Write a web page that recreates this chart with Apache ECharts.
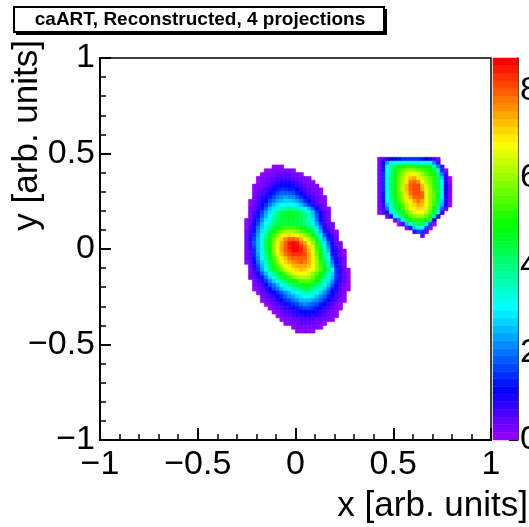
<!DOCTYPE html>
<html><head><meta charset="utf-8">
<script src="https://cdn.jsdelivr.net/npm/echarts@6/dist/echarts.min.js"></script>
<style>html,body{margin:0;padding:0;background:#fff}#c{width:529px;height:527px}</style>
</head><body><div id="c"></div>
<script>
// ---- text ----
const titleText = 'caART, Reconstructed, 4 projections';
const xAxisTitle = 'x [arb. units]';
const yAxisTitle = 'y [arb. units]';
const colorbarTicks = [0, 2, 4, 6, 8];

// ---- histogram definition ----
const binWidth = 0.02;
const zMax = 8.75;
const paletteSize = 50;

// left blob: per row -> bin-centre y, first bin-centre x, bin contents
const leftRowY = [0.43, 0.41, 0.39, 0.37, 0.35, 0.33, 0.31, 0.29, 0.27, 0.25, 0.23, 0.21, 0.19, 0.17, 0.15, 0.13, 0.11, 0.09, 0.07, 0.05, 0.03, 0.01,
  -0.01, -0.03, -0.05, -0.07, -0.09, -0.11, -0.13, -0.15, -0.17, -0.19, -0.21, -0.23, -0.25, -0.27, -0.29, -0.31, -0.33, -0.35, -0.37, -0.39, -0.41, -0.43];
const leftRowStartX = [-0.11, -0.15, -0.17, -0.19, -0.19, -0.21, -0.21, -0.21, -0.21, -0.23, -0.23, -0.23, -0.23, -0.23, -0.25, -0.25, -0.25, -0.25, -0.25, -0.25, -0.25, -0.25,
  -0.25, -0.25, -0.25, -0.25, -0.23, -0.23, -0.23, -0.23, -0.21, -0.21, -0.21, -0.19, -0.17, -0.17, -0.15, -0.13, -0.11, -0.09, -0.07, -0.05, -0.01, 0.01];
const leftRowZ = [
  [0.1, 0.15, 0.1],
  [0.1, 0.15, 0.2, 0.28, 0.3, 0.28, 0.2, 0.12],
  [0.1, 0.18, 0.26, 0.33, 0.4, 0.45, 0.43, 0.37, 0.28, 0.2, 0.12],
  [0.1, 0.18, 0.27, 0.36, 0.45, 0.53, 0.6, 0.6, 0.55, 0.46, 0.36, 0.27, 0.18, 0.1],
  [0.15, 0.25, 0.38, 0.5, 0.65, 0.78, 0.9, 0.95, 0.9, 0.8, 0.65, 0.5, 0.35, 0.22, 0.12],
  [0.1, 0.2, 0.32, 0.45, 0.62, 0.8, 0.95, 1.05, 1.1, 1.05, 0.95, 0.8, 0.62, 0.45, 0.32, 0.2, 0.12],
  [0.15, 0.3, 0.45, 0.65, 0.88, 1.1, 1.28, 1.42, 1.45, 1.4, 1.25, 1.05, 0.85, 0.65, 0.48, 0.35, 0.25, 0.12],
  [0.2, 0.38, 0.58, 0.82, 1.1, 1.38, 1.62, 1.8, 1.85, 1.8, 1.62, 1.35, 1.05, 0.8, 0.6, 0.45, 0.3, 0.17],
  [0.3, 0.5, 0.75, 1.0, 1.35, 1.7, 2.0, 2.2, 2.3, 2.25, 2.1, 1.85, 1.5, 1.15, 0.85, 0.6, 0.42, 0.28, 0.15],
  [0.12, 0.35, 0.6, 0.9, 1.2, 1.6, 2.0, 2.35, 2.6, 2.7, 2.7, 2.55, 2.3, 1.95, 1.55, 1.1, 0.8, 0.55, 0.35, 0.2],
  [0.15, 0.4, 0.7, 1.05, 1.5, 2.0, 2.5, 2.85, 3.05, 3.15, 3.15, 3.05, 2.85, 2.5, 2.05, 1.5, 1.0, 0.7, 0.45, 0.25],
  [0.2, 0.5, 0.85, 1.3, 1.9, 2.45, 2.9, 3.3, 3.6, 3.8, 3.85, 3.8, 3.65, 3.4, 3.0, 2.5, 1.8, 1.1, 0.65, 0.35, 0.12],
  [0.3, 0.6, 1.0, 1.7, 2.4, 2.9, 3.4, 3.9, 4.3, 4.55, 4.6, 4.55, 4.4, 4.15, 3.7, 3.2, 2.5, 1.6, 1.0, 0.6, 0.25],
  [0.35, 0.75, 1.25, 1.9, 2.6, 3.1, 3.6, 4.1, 4.45, 4.65, 4.7, 4.65, 4.5, 4.3, 3.9, 3.4, 2.7, 1.8, 1.05, 0.6, 0.3],
  [0.1, 0.4, 0.9, 1.5, 2.2, 2.85, 3.3, 3.8, 4.25, 4.55, 4.7, 4.7, 4.65, 4.5, 4.35, 4.0, 3.55, 2.9, 2.0, 1.15, 0.7, 0.35],
  [0.12, 0.5, 1.05, 1.7, 2.45, 3.0, 3.45, 3.9, 4.2, 4.4, 4.5, 4.5, 4.45, 4.35, 4.2, 3.95, 3.6, 3.1, 2.4, 1.5, 0.85, 0.5, 0.2],
  [0.15, 0.6, 1.25, 2.0, 2.75, 3.35, 3.9, 4.4, 4.85, 5.15, 5.3, 5.35, 5.3, 5.15, 4.9, 4.6, 4.2, 3.6, 2.9, 2.0, 0.95, 0.6, 0.3],
  [0.2, 0.75, 1.4, 2.2, 2.95, 3.6, 4.25, 4.85, 5.4, 5.8, 6.05, 6.15, 6.1, 5.9, 5.6, 5.25, 4.8, 4.2, 3.4, 2.5, 1.3, 0.8, 0.45, 0.15],
  [0.25, 0.85, 1.55, 2.35, 3.1, 3.85, 4.6, 5.3, 5.9, 6.5, 6.9, 7.05, 7.0, 6.8, 6.45, 6.0, 5.45, 4.85, 4.0, 2.9, 1.9, 1.0, 0.55, 0.25],
  [0.3, 1.0, 1.75, 2.5, 3.3, 4.15, 4.95, 5.7, 6.4, 7.05, 7.6, 7.9, 7.95, 7.75, 7.3, 6.8, 6.2, 5.45, 4.6, 3.4, 2.5, 1.35, 0.8, 0.4],
  [0.3, 0.85, 1.8, 2.5, 3.3, 4.2, 5.0, 5.85, 6.85, 7.4, 8.0, 8.5, 8.7, 8.5, 8.0, 7.45, 6.8, 6.05, 5.15, 3.9, 2.9, 1.8, 0.9, 0.5, 0.2],
  [0.3, 0.75, 1.7, 2.6, 3.3, 4.2, 5.0, 5.85, 6.85, 7.4, 8.0, 8.5, 8.75, 8.6, 8.25, 7.7, 7.05, 6.4, 5.4, 4.3, 3.2, 2.1, 0.95, 0.6, 0.3],
  [0.25, 0.7, 1.55, 2.5, 3.3, 4.15, 4.95, 5.8, 6.8, 7.4, 7.95, 8.35, 8.6, 8.6, 8.4, 8.0, 7.35, 6.6, 5.6, 4.6, 3.5, 2.5, 1.2, 0.75, 0.4, 0.1],
  [0.22, 0.65, 1.45, 2.4, 3.2, 4.0, 4.85, 5.65, 6.65, 7.2, 7.7, 8.05, 8.25, 8.3, 8.25, 8.1, 7.5, 6.6, 5.75, 4.9, 3.8, 2.9, 1.4, 0.85, 0.5, 0.15],
  [0.2, 0.6, 1.3, 2.2, 3.0, 3.8, 4.6, 5.4, 6.4, 6.95, 7.35, 7.7, 7.9, 8.0, 8.0, 7.9, 7.5, 6.7, 5.9, 5.05, 4.0, 3.15, 1.7, 0.95, 0.55, 0.2],
  [0.1, 0.5, 1.1, 2.0, 2.8, 3.6, 4.4, 5.2, 6.05, 6.75, 7.1, 7.4, 7.65, 7.85, 7.9, 7.8, 7.4, 6.7, 6.0, 5.2, 4.35, 3.35, 2.0, 1.05, 0.6, 0.25],
  [0.4, 0.9, 1.7, 2.6, 3.45, 4.25, 5.0, 5.6, 6.15, 6.8, 7.0, 7.2, 7.4, 7.5, 7.4, 7.2, 6.7, 6.05, 5.4, 4.6, 3.6, 2.3, 1.25, 0.65, 0.3],
  [0.35, 0.75, 1.45, 2.35, 3.2, 3.95, 4.6, 5.2, 5.75, 6.4, 6.8, 6.95, 7.1, 7.2, 7.1, 6.95, 6.7, 6.1, 5.45, 4.8, 3.9, 3.0, 1.5, 0.8, 0.45, 0.12],
  [0.3, 0.6, 1.0, 1.85, 2.6, 3.3, 3.85, 4.45, 5.05, 5.55, 6.05, 6.5, 6.7, 6.8, 6.75, 6.5, 6.05, 5.6, 5.05, 4.3, 3.55, 2.7, 1.5, 0.8, 0.45, 0.12],
  [0.2, 0.45, 0.75, 1.25, 2.0, 2.75, 3.3, 3.9, 4.4, 4.9, 5.3, 5.65, 5.95, 6.15, 6.2, 6.0, 5.65, 5.2, 4.8, 3.95, 3.25, 2.5, 1.5, 0.8, 0.45, 0.12],
  [0.3, 0.55, 0.85, 1.45, 2.1, 2.7, 3.25, 3.7, 4.1, 4.6, 4.95, 5.25, 5.5, 5.6, 5.45, 5.2, 4.95, 4.2, 3.55, 2.95, 2.2, 1.3, 0.75, 0.4, 0.12],
  [0.2, 0.4, 0.65, 1.05, 1.6, 2.05, 2.5, 3.0, 3.4, 3.75, 4.1, 4.4, 4.7, 4.9, 4.8, 4.5, 4.1, 3.6, 3.05, 2.55, 1.8, 0.95, 0.65, 0.35, 0.12],
  [0.12, 0.3, 0.55, 0.85, 1.2, 1.6, 2.0, 2.45, 2.85, 3.1, 3.4, 3.75, 4.05, 4.25, 4.2, 3.95, 3.65, 3.2, 2.65, 2.05, 1.4, 0.9, 0.6, 0.35, 0.12],
  [0.15, 0.4, 0.65, 0.9, 1.15, 1.5, 1.85, 2.2, 2.5, 2.85, 3.1, 3.35, 3.6, 3.55, 3.35, 3.1, 2.75, 2.25, 1.75, 1.1, 0.75, 0.45, 0.2],
  [0.2, 0.4, 0.65, 0.85, 1.1, 1.45, 1.8, 2.1, 2.4, 2.65, 2.9, 3.05, 3.0, 2.85, 2.6, 2.2, 1.8, 1.35, 0.9, 0.65, 0.4, 0.15],
  [0.1, 0.3, 0.5, 0.7, 0.9, 1.15, 1.45, 1.75, 2.0, 2.25, 2.45, 2.6, 2.55, 2.4, 2.2, 1.85, 1.5, 1.1, 0.8, 0.55, 0.35, 0.1],
  [0.15, 0.3, 0.5, 0.7, 0.85, 1.0, 1.25, 1.5, 1.75, 1.95, 2.1, 2.05, 1.9, 1.65, 1.35, 1.05, 0.8, 0.55, 0.35, 0.15],
  [0.15, 0.3, 0.45, 0.6, 0.75, 0.9, 1.05, 1.25, 1.45, 1.6, 1.6, 1.45, 1.25, 1.02, 0.8, 0.6, 0.42, 0.28, 0.12],
  [0.15, 0.3, 0.42, 0.55, 0.68, 0.82, 0.95, 1.08, 1.18, 1.2, 1.1, 0.95, 0.8, 0.62, 0.45, 0.3, 0.15],
  [0.15, 0.28, 0.4, 0.52, 0.63, 0.74, 0.83, 0.9, 0.9, 0.85, 0.75, 0.62, 0.48, 0.35, 0.22, 0.1],
  [0.12, 0.22, 0.33, 0.43, 0.52, 0.6, 0.65, 0.65, 0.6, 0.52, 0.42, 0.32, 0.2, 0.1],
  [0.1, 0.18, 0.27, 0.35, 0.42, 0.45, 0.45, 0.4, 0.32, 0.22, 0.12],
  [0.12, 0.2, 0.27, 0.3, 0.3, 0.25, 0.18, 0.1],
  [0.1, 0.15, 0.18, 0.15, 0.1]
];

// right blob
const rightRowY = [0.47, 0.45, 0.43, 0.41, 0.39, 0.37, 0.35, 0.33, 0.31, 0.29, 0.27, 0.25, 0.23, 0.21, 0.19, 0.17, 0.15, 0.13, 0.11, 0.09, 0.07];
const rightRowStartX = [0.43, 0.43, 0.43, 0.43, 0.43, 0.43, 0.43, 0.43, 0.43, 0.43, 0.43, 0.43, 0.43, 0.43, 0.43, 0.47, 0.51, 0.53, 0.57, 0.61, 0.65];
const rightRowZ = [
  [0.35, 0.6, 0.85, 1.05, 1.2, 1.35, 1.45, 1.5, 1.5, 1.5, 1.45, 1.35, 1.2, 0.95, 0.65, 0.3],
  [0.2, 1.1, 2.35, 3.05, 3.15, 3.25, 3.3, 3.35, 3.35, 3.3, 3.25, 3.15, 3.1, 3.05, 2.2, 0.7],
  [0.2, 1.3, 3.05, 3.75, 4.45, 4.9, 5.0, 5.1, 5.2, 5.15, 5.05, 4.95, 4.85, 4.8, 3.6, 2.2, 0.6],
  [0.25, 1.4, 3.15, 3.95, 4.8, 5.3, 5.7, 6.0, 6.2, 6.1, 5.9, 5.6, 5.3, 5.0, 4.5, 3.35, 1.5, 0.15],
  [0.3, 1.5, 3.2, 4.0, 4.85, 5.4, 5.95, 6.45, 6.85, 6.7, 6.4, 6.0, 5.6, 5.25, 4.9, 3.9, 2.2, 0.6],
  [0.3, 1.5, 3.2, 4.05, 4.9, 5.55, 6.2, 6.85, 7.35, 7.45, 6.95, 6.45, 6.0, 5.55, 5.1, 4.2, 2.8, 0.9, 0.1],
  [0.3, 1.5, 3.25, 4.1, 4.95, 5.65, 6.3, 6.95, 7.7, 8.0, 7.6, 6.7, 6.2, 5.75, 5.2, 4.35, 3.0, 1.0, 0.15],
  [0.3, 1.5, 3.25, 4.1, 4.95, 5.7, 6.4, 7.2, 8.0, 8.1, 8.05, 7.2, 6.5, 5.9, 5.3, 4.45, 3.2, 1.15, 0.2],
  [0.3, 1.5, 3.25, 4.1, 4.95, 5.7, 6.4, 7.3, 8.0, 8.15, 8.1, 7.5, 6.6, 6.0, 5.4, 4.5, 3.25, 1.2, 0.2],
  [0.3, 1.4, 3.15, 4.05, 4.9, 5.6, 6.3, 7.1, 7.85, 8.05, 8.1, 8.0, 6.7, 6.1, 5.45, 4.55, 3.3, 1.2, 0.2],
  [0.3, 1.3, 3.05, 3.95, 4.8, 5.5, 6.2, 6.85, 7.5, 8.0, 8.0, 7.9, 6.7, 6.1, 5.45, 4.6, 3.0, 1.0, 0.2],
  [0.25, 1.0, 3.0, 3.8, 4.6, 5.35, 5.95, 6.6, 7.0, 7.4, 7.8, 7.5, 6.8, 6.1, 5.4, 4.5, 2.8, 1.0, 0.2],
  [0.2, 0.85, 2.5, 3.55, 4.35, 5.05, 5.6, 6.2, 6.85, 7.1, 7.45, 7.3, 6.8, 6.05, 5.3, 4.1, 2.6, 0.9, 0.15],
  [0.2, 0.75, 2.0, 3.3, 4.05, 4.8, 5.4, 6.0, 6.65, 6.85, 7.1, 6.95, 6.6, 5.85, 5.0, 3.7, 1.9, 0.5],
  [0.1, 0.6, 1.35, 2.85, 3.65, 4.35, 5.0, 5.55, 6.1, 6.6, 6.75, 6.7, 6.2, 5.5, 4.7, 3.3, 0.85],
  [0.3, 1.0, 3.0, 3.7, 4.45, 5.05, 5.45, 5.8, 6.05, 6.05, 5.7, 5.2, 4.1, 0.8],
  [0.5, 2.0, 3.4, 4.2, 4.9, 5.1, 5.25, 5.2, 5.0, 4.3, 1.0],
  [0.1, 0.85, 2.5, 3.35, 3.85, 4.25, 4.1, 3.4, 1.6, 0.1],
  [0.3, 1.3, 2.65, 3.2, 3.1, 1.6, 0.1],
  [0.8, 1.6, 1.5, 0.4],
  [0.4]
];

// ---- build series data ----
function blobData(rowY, rowStartX, rowZ) {
  const out = [];
  rowY.forEach((y, i) => rowZ[i].forEach((z, j) => {
    if (z > 0) out.push([+(rowStartX[i] + j * binWidth).toFixed(3), y, z]);
  }));
  return out;
}
const histData = blobData(leftRowY, leftRowStartX, leftRowZ).concat(blobData(rightRowY, rightRowStartX, rightRowZ));

// ROOT "pretty palette" (SetPalette(1)): 50 hues 280 -> 0, S=1, L=0.5
function hslToHex(h, s, l) {
  const a = s * Math.min(l, 1 - l);
  const f = n => { const k = (n + h / 30) % 12; const c = l - a * Math.max(-1, Math.min(k - 3, 9 - k, 1)); return Math.round(255 * c).toString(16).padStart(2, '0'); };
  return '#' + f(0) + f(8) + f(4);
}
const step = zMax / paletteSize;
const pieces = [];
const colorbarData = [];
for (let i = 0; i < paletteSize; i++) {
  pieces.push({ gt: i * step, lte: (i + 1) * step, color: hslToHex(280 - (i + 1) * (280 / paletteSize), 1, 0.5) });
  colorbarData.push([i * step, (i + 1) * step, (i + 0.5) * step]);
}

const FONT = '"Liberation Sans", Arial, Helvetica, sans-serif';
const fmt = v => (v < 0 ? '\u2212' : '') + Math.abs(v);

const chart = echarts.init(document.getElementById('c'), null, { renderer: 'canvas' });
chart.setOption({
  backgroundColor: '#fff',
  animation: false,
  grid: [
    { left: 100, top: 58, width: 391, height: 382, show: true, borderColor: '#000', borderWidth: 1.5, backgroundColor: 'rgba(0,0,0,0)', containLabel: false, outerBoundsMode: 'none' },
    { left: 493, top: 58, width: 25, height: 382, containLabel: false, outerBoundsMode: 'none' }
  ],
  xAxis: [
    {
      gridIndex: 0, type: 'value', min: -1, max: 1, interval: 0.5,
      axisLine: { onZero: false, lineStyle: { color: '#000', width: 2 } },
      axisTick: { inside: true, length: 12, lineStyle: { color: '#000', width: 2 } },
      minorTick: { show: true, splitNumber: 5, length: 6, lineStyle: { color: '#000', width: 1.5 } },
      splitLine: { show: false },
      axisLabel: { fontSize: 34, fontFamily: FONT, color: '#000', margin: 8, formatter: fmt, showMinLabel: true, showMaxLabel: true },
      name: xAxisTitle, nameLocation: 'end', nameGap: 37, nameMoveOverlap: false,
      nameTextStyle: { fontSize: 35, fontFamily: FONT, color: '#000', align: 'right', verticalAlign: 'top', padding: [49, 0, 0, 0] }
    },
    { gridIndex: 1, type: 'value', min: 0, max: 1, show: false }
  ],
  yAxis: [
    {
      gridIndex: 0, type: 'value', min: -1, max: 1, interval: 0.5,
      axisLine: { onZero: false, lineStyle: { color: '#000', width: 2 } },
      axisTick: { inside: true, length: 11, lineStyle: { color: '#000', width: 2 } },
      minorTick: { show: true, splitNumber: 5, length: 6, lineStyle: { color: '#000', width: 1.5 } },
      splitLine: { show: false },
      axisLabel: { fontSize: 34, fontFamily: FONT, color: '#000', margin: 5, formatter: fmt, showMinLabel: true, showMaxLabel: true },
      name: yAxisTitle, nameLocation: 'end', nameGap: 18, nameRotate: 90, nameMoveOverlap: false,
      nameTextStyle: { fontSize: 35, fontFamily: FONT, color: '#000', align: 'right', verticalAlign: 'bottom', padding: [0, 0, 55, 0] }
    },
    {
      gridIndex: 1, type: 'value', min: 0, max: zMax, position: 'right',
      axisLine: { show: true, onZero: false, lineStyle: { color: '#000', width: 1.5 } },
      axisTick: { show: true, inside: true, length: 9, customValues: colorbarTicks, lineStyle: { color: '#000', width: 2 } },
      splitLine: { show: false },
      axisLabel: { fontSize: 34, fontFamily: FONT, color: '#000', margin: 2, customValues: colorbarTicks }
    }
  ],
  visualMap: {
    type: 'piecewise', show: false, dimension: 2, seriesIndex: [0, 1], pieces: pieces,
    outOfRange: { color: 'rgba(0,0,0,0)' }
  },
  series: [
    {
      type: 'custom', xAxisIndex: 0, yAxisIndex: 0, data: histData, encode: { x: 0, y: 1 }, silent: true,
      renderItem: function (params, api) {
        const x = api.value(0), y = api.value(1);
        const p0 = api.coord([x - binWidth / 2, y + binWidth / 2]);
        const p1 = api.coord([x + binWidth / 2, y - binWidth / 2]);
        const c = api.visual('color');
        return { type: 'rect', shape: { x: p0[0], y: p0[1], width: p1[0] - p0[0], height: p1[1] - p0[1] }, style: { fill: c, stroke: c, lineWidth: 0.6 } };
      }
    },
    {
      type: 'custom', xAxisIndex: 1, yAxisIndex: 1, data: colorbarData, encode: { y: [0, 1] }, silent: true,
      renderItem: function (params, api) {
        const p0 = api.coord([0, api.value(1)]);
        const p1 = api.coord([1, api.value(0)]);
        const c = api.visual('color');
        return { type: 'rect', shape: { x: p0[0], y: p0[1], width: p1[0] - p0[0], height: p1[1] - p0[1] }, style: { fill: c, stroke: c, lineWidth: 0.5 } };
      }
    }
  ],
  graphic: [
    { type: 'rect', shape: { x: 16, y: 9, width: 371, height: 26 }, style: { fill: '#000' }, silent: true },
    { type: 'rect', shape: { x: 14, y: 7, width: 370, height: 25 }, style: { fill: '#fff', stroke: '#000', lineWidth: 2 }, silent: true },
    { type: 'text', x: 200, y: 20, style: { text: titleText, font: 'bold 19px ' + FONT, fill: '#000', align: 'center', verticalAlign: 'middle' }, silent: true }
  ]
});
</script>
</body></html>
